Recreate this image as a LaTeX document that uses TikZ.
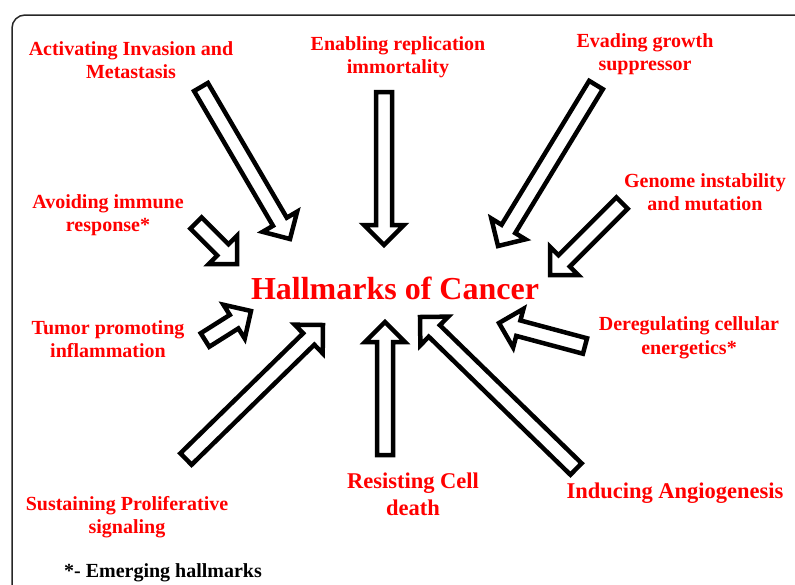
\documentclass[tikz,border=0pt]{standalone}
\usepackage{fontspec}
\setmainfont{Liberation Serif}
\usetikzlibrary{calc}
\definecolor{hred}{RGB}{255,0,0}
\tikzset{
  lbl/.style={text=hred, font=\fontsize{20}{23.5}\selectfont\bfseries, align=center, inner sep=0pt},
  lblbig/.style={text=hred, font=\fontsize{22.5}{27}\selectfont\bfseries, align=center, inner sep=0pt},
  barrow/.style={draw=black, fill=white, line width=4.5pt, line join=miter},
  frame/.style={draw=black!85, line width=1.5pt, rounded corners=13pt}
}
\newcommand\blockarr[2]{%
  \coordinate (bh) at ($(#2)!20pt!(#1)$);
  \draw[barrow] ($(#1)!8pt!90:(#2)$) -- ($(bh)!8pt!90:(#2)$) -- ($(bh)!20pt!90:(#2)$) -- (#2)
    -- ($(bh)!20pt!-90:(#2)$) -- ($(bh)!8pt!-90:(#2)$) -- ($(#1)!8pt!-90:(#2)$) -- cycle;
}
\begin{document}
\begin{tikzpicture}[x=1pt,y=-1pt]
\useasboundingbox (0,0) rectangle (795,584);
\clip (0,0) rectangle (795,584);
\draw[frame] (12,15) rectangle (830,630);

% title
\node[text=hred, font=\fontsize{32}{36}\selectfont\bfseries, inner sep=0pt] (hc) at (395,288) {Hallmarks of Cancer};

% labels
\node[lbl] (inv) at (131,60) {Activating Invasion and\\Metastasis};
\node[lbl] (rep) at (398,57) {Enabling replication\\immortality};
\node[lbl] (eva) at (645,54) {Evading growth\\suppressor};
\node[lbl] (gen) at (705,192) {Genome instability\\and mutation};
\node[lbl] (imm) at (108,215) {Avoiding immune\\response*};
\node[lbl] (tum) at (108,339) {Tumor promoting\\inflammation};
\node[lbl] (der) at (689,338) {Deregulating cellular\\energetics*};
\node[lbl] (sus) at (127,517) {Sustaining Proliferative\\signaling};
\node[lblbig] (res) at (413,494) {Resisting Cell\\death};
\node[lblbig] (ind) at (675,493) {Inducing Angiogenesis};
\node[font=\fontsize{20}{23}\selectfont\bfseries, inner sep=0pt] (emg) at (163,573) {*- Emerging hallmarks};

% arrow ends
\coordinate (a1) at (201,87);  \coordinate (b1) at (290,239);
\coordinate (a2) at (384,92);  \coordinate (b2) at (384,245);
\coordinate (a3) at (596,85);  \coordinate (b3) at (498,246);
\coordinate (a4) at (622,203); \coordinate (b4) at (550,275);
\coordinate (a5) at (196,223); \coordinate (b5) at (237,264);
\coordinate (a6) at (205,340); \coordinate (b6) at (251,311);
\coordinate (a7) at (186,459); \coordinate (b7) at (323,325);
\coordinate (a8) at (385,455); \coordinate (b8) at (385,322);
\coordinate (a9) at (576,469); \coordinate (b9) at (420,317);
\coordinate (a10) at (585,346); \coordinate (b10) at (499,323);

\blockarr{a1}{b1}
\blockarr{a2}{b2}
\blockarr{a3}{b3}
\blockarr{a4}{b4}
\blockarr{a5}{b5}
\blockarr{a6}{b6}
\blockarr{a7}{b7}
\blockarr{a8}{b8}
\blockarr{a9}{b9}
\blockarr{a10}{b10}
\end{tikzpicture}
\end{document}
